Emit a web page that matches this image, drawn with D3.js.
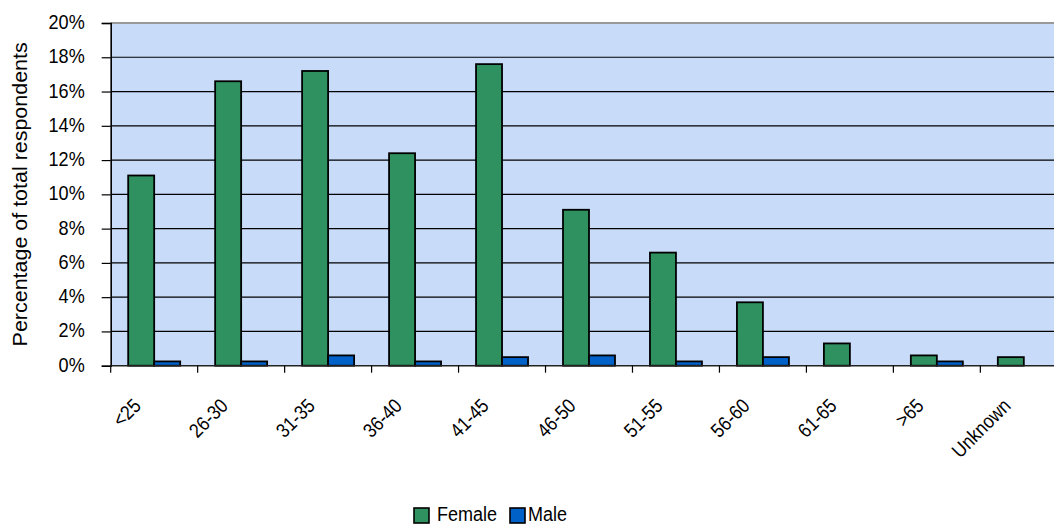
<!DOCTYPE html>
<html lang="en">
<head>
<meta charset="UTF-8">
<title>Respondents by age and gender</title>
<script src="https://d3js.org/d3.v7.min.js"></script>
<style>
  body { margin: 0; background: #fff; }
  text { font-family: "Liberation Sans", Arial, sans-serif; fill: #000; }
</style>
</head>
<body>
<div id="chart"></div>
<script>
// age groups and share of total respondents (%)
var categories = ["<25", "26-30", "31-35", "36-40", "41-45", "46-50", "51-55", "56-60", "61-65", ">65", "Unknown"];
var female = [11.1, 16.6, 17.2, 12.4, 17.6, 9.1, 6.6, 3.7, 1.3, 0.6, 0.5];
var male = [0.25, 0.25, 0.6, 0.25, 0.5, 0.6, 0.25, 0.5, 0, 0.25, 0];
var seriesNames = ["Female", "Male"];
var yTicks = [0, 2, 4, 6, 8, 10, 12, 14, 16, 18, 20];

var width = 1054, height = 524;
var plotLeft = 110.7, plotRight = 1067.3, plotTop = 23, plotBottom = 365.7;
var colors = { Female: "#2f915f", Male: "#0062c9" };

var svg = d3.select("#chart").append("svg")
    .attr("width", width)
    .attr("height", height);

var x0 = d3.scaleBand()
    .domain(categories)
    .range([plotLeft, plotRight])
    .paddingInner(0.402)
    .paddingOuter(0.201);

var x1 = d3.scaleBand()
    .domain(seriesNames)
    .range([0, x0.bandwidth()]);

var y = d3.scaleLinear()
    .domain([0, 20])
    .range([plotBottom, plotTop]);

// squeeze text horizontally, the original fonts are narrower than Arial
function condense(sel, k) {
    sel.each(function() {
        var len = this.getComputedTextLength();
        d3.select(this).attr("textLength", len * k).attr("lengthAdjust", "spacingAndGlyphs");
    });
}

// plot background
svg.append("rect")
    .attr("x", plotLeft).attr("y", plotTop)
    .attr("width", plotRight - plotLeft).attr("height", plotBottom - plotTop)
    .attr("fill", "#c8dcfa");

// gridlines
svg.append("g")
    .selectAll("line")
    .data(yTicks.filter(function(d) { return d > 0 && d < 20; }))
    .enter().append("line")
    .attr("x1", plotLeft).attr("x2", plotRight)
    .attr("y1", function(d) { return y(d); })
    .attr("y2", function(d) { return y(d); })
    .attr("stroke", "#000")
    .attr("stroke-width", 1.2);

// top border
svg.append("line")
    .attr("x1", plotLeft).attr("x2", plotRight)
    .attr("y1", plotTop).attr("y2", plotTop)
    .attr("stroke", "#999").attr("stroke-width", 2);

// bars
var rows = categories.map(function(c, i) { return { cat: c, Female: female[i], Male: male[i] }; });

svg.append("g")
    .selectAll("g")
    .data(rows)
    .enter().append("g")
    .attr("transform", function(d) { return "translate(" + x0(d.cat) + ",0)"; })
    .selectAll("rect")
    .data(function(d) {
        return seriesNames.map(function(s) { return { key: s, value: d[s] }; })
            .filter(function(e) { return e.value > 0; });
    })
    .enter().append("rect")
    .attr("x", function(d) { return x1(d.key); })
    .attr("width", x1.bandwidth())
    .attr("y", function(d) { return y(d.value); })
    .attr("height", function(d) { return y(0) - y(d.value); })
    .attr("fill", function(d) { return colors[d.key]; })
    .attr("stroke", "#000")
    .attr("stroke-width", 1.8);

// y axis
var yAxis = svg.append("g")
    .attr("transform", "translate(" + plotLeft + ",0)")
    .call(d3.axisLeft(y).tickValues(yTicks).tickSize(9).tickPadding(17)
        .tickFormat(function(d) { return d + "%"; }));
yAxis.select(".domain").attr("stroke", "#000").attr("stroke-width", 1.6);
yAxis.selectAll(".tick line").attr("stroke", "#000").attr("stroke-width", 1.2);
yAxis.selectAll(".tick text")
    .attr("font-size", 21)
    .attr("font-family", "Liberation Sans, Arial, sans-serif")
    .attr("dy", "0.26em")
    .call(condense, 0.86);

// x axis (ticks between categories)
var step = x0.step();
var bounds = categories.map(function(c) { return x0(c) - step * x0.paddingOuter(); });
var xAxis = svg.append("g");
xAxis.append("line")
    .attr("x1", plotLeft).attr("x2", plotRight)
    .attr("y1", plotBottom).attr("y2", plotBottom)
    .attr("stroke", "#222").attr("stroke-width", 1.6);
xAxis.selectAll(".tk")
    .data(bounds)
    .enter().append("line")
    .attr("class", "tk")
    .attr("x1", function(d) { return d; }).attr("x2", function(d) { return d; })
    .attr("y1", plotBottom).attr("y2", plotBottom + 7)
    .attr("stroke", "#000").attr("stroke-width", 1.2);
xAxis.selectAll("text")
    .data(categories)
    .enter().append("text")
    .attr("text-anchor", "end")
    .attr("font-size", 20)
    .attr("transform", function(d) {
        var cx = x0(d) + x0.bandwidth() / 2 - 12;
        return "translate(" + cx + ",407) rotate(-45)";
    })
    .text(function(d) { return d; })
    .call(condense, 0.88);

// y title
svg.append("text")
    .attr("text-anchor", "middle")
    .attr("font-size", 19.5)
    .attr("transform", "translate(26.5," + ((plotTop + plotBottom) / 2) + ") rotate(-90)")
    .text("Percentage of total respondents")
    .call(condense, 1.1);

// legend
var legendX = [414, 510];
var legend = svg.append("g")
    .selectAll("g")
    .data(seriesNames)
    .enter().append("g")
    .attr("transform", function(d, i) { return "translate(" + legendX[i] + ",508)"; });
legend.append("rect")
    .attr("width", 15).attr("height", 15)
    .attr("fill", function(d) { return colors[d]; })
    .attr("stroke", "#000").attr("stroke-width", 1.6);
legend.append("text")
    .attr("x", function(d, i) { return i === 0 ? 23 : 18; })
    .attr("y", 13)
    .attr("font-size", 20)
    .text(function(d) { return d; })
    .call(condense, 0.9);
</script>
</body>
</html>
